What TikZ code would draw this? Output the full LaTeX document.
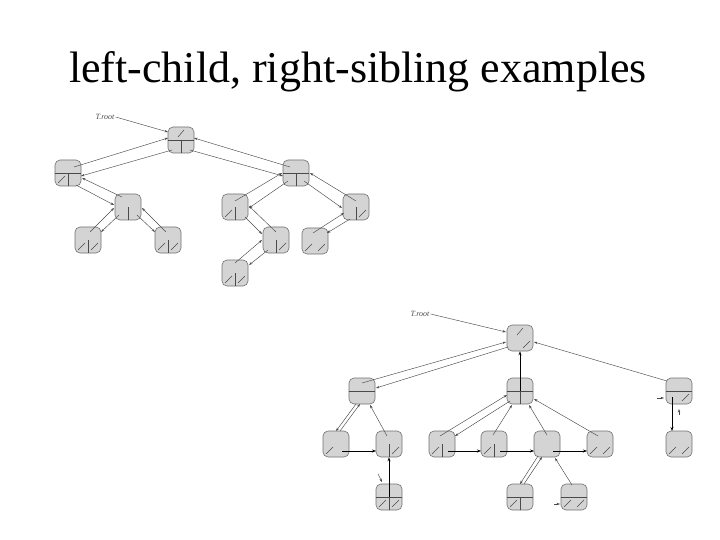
\documentclass[tikz,border=0pt]{standalone}
\usepackage{fontspec}
\setmainfont{Liberation Serif}
\usetikzlibrary{arrows.meta}
\definecolor{nodefill}{HTML}{D4D4D4}
\definecolor{nodeedge}{HTML}{707070}
\definecolor{ptrcol}{HTML}{4A4A4A}
\tikzset{
  rec/.style={draw=nodeedge, fill=nodefill, rounded corners=5pt, minimum size=26pt, inner sep=0pt, line width=0.6pt},
  divl/.style={draw=ptrcol, line width=0.5pt},
  ptr/.style={draw=ptrcol, line width=0.45pt, -{Stealth[length=3.5pt,width=2.4pt]}},
  sib/.style={draw=black, line width=0.9pt, -{Stealth[length=4pt,width=3pt]}},
  lab/.style={font=\fontsize{8}{9}\selectfont\itshape, text=ptrcol, inner sep=1pt}
}
\newcommand\hDiv[1]{\draw[divl] (#1.west) -- (#1.east);}
\newcommand\vDiv[1]{\draw[divl] (#1.center) -- (#1.south);}
\newcommand\nilT[1]{\draw[divl] ([shift={(-3,-3)}]#1.center) -- ([shift={(3,-10)}]#1.center);}
\newcommand\nilL[1]{\draw[divl] ([shift={(-10,10)}]#1.center) -- ([shift={(-3,3)}]#1.center);}
\newcommand\nilR[1]{\draw[divl] ([shift={(3,10)}]#1.center) -- ([shift={(10,3)}]#1.center);}
\begin{document}
\begin{tikzpicture}[x=1pt,y=-1pt]
\useasboundingbox (0,0) rectangle (720,540);
\node[font=\fontsize{44}{50}\selectfont, anchor=base, inner sep=0pt] (title) at (358,83) {left-child, right-sibling examples};

% ---------- top tree ----------
\node[rec] (root) at (181,140) {};
\node[rec] (A) at (68,173) {};
\node[rec] (B) at (296,173) {};
\node[rec] (C) at (128,207) {};
\node[rec] (D) at (88,240) {};
\node[rec] (E) at (168,240) {};
\node[rec] (F) at (235,207) {};
\node[rec] (G) at (356,207) {};
\node[rec] (H) at (276,240) {};
\node[rec] (J) at (315,241) {};
\node[rec] (I) at (235,273) {};
\node[lab] (lab1) at (105,117) {T.root};

\nilT{root}\hDiv{root}\vDiv{root}
\hDiv{A}\vDiv{A}\nilL{A}
\hDiv{B}\vDiv{B}
\vDiv{C}
\vDiv{D}\nilL{D}\nilR{D}
\vDiv{E}\nilL{E}\nilR{E}
\vDiv{F}\nilL{F}
\vDiv{G}\nilR{G}
\vDiv{H}\nilR{H}
\nilL{J}\nilR{J}
\vDiv{I}\nilL{I}\nilR{I}

\draw[ptr] (lab1.east) -- ([shift={(-13,-8)}]root.center);
% root - A
\draw[ptr] ([shift={(6,-6)}]A.center) -- ([shift={(-13,-2)}]root.center);
\draw[ptr] ([shift={(-9,10)}]root.center) -- ([shift={(13,3)}]A.center);
% root - B
\draw[ptr] ([shift={(-6,-6)}]B.center) -- ([shift={(13,-2)}]root.center);
\draw[ptr] ([shift={(9,10)}]root.center) -- ([shift={(-13,3)}]B.center);
% A - C
\draw[ptr] ([shift={(-6,-10)}]C.center) -- ([shift={(14,5)}]A.center);
\draw[ptr] ([shift={(8,12)}]A.center) -- ([shift={(-14,-2)}]C.center);
% C - D
\draw[ptr] ([shift={(2,-8)}]D.center) -- ([shift={(-14,1)}]C.center);
\draw[ptr] ([shift={(-9,8)}]C.center) -- ([shift={(13,-8)}]D.center);
% C - E
\draw[ptr] ([shift={(-2,-8)}]E.center) -- ([shift={(14,1)}]C.center);
\draw[ptr] ([shift={(9,8)}]C.center) -- ([shift={(-13,-8)}]E.center);
% B - F
\draw[ptr] ([shift={(0,-6)}]F.center) -- ([shift={(-14,0)}]B.center);
\draw[ptr] ([shift={(-8,8)}]B.center) -- ([shift={(14,1)}]F.center);
% B - G
\draw[ptr] ([shift={(0,-6)}]G.center) -- ([shift={(14,0)}]B.center);
\draw[ptr] ([shift={(8,8)}]B.center) -- ([shift={(-14,1)}]G.center);
% F - H
\draw[ptr] ([shift={(0,-8)}]H.center) -- ([shift={(14,-1)}]F.center);
\draw[ptr] ([shift={(10,10)}]F.center) -- ([shift={(-14,-6)}]H.center);
% G - J
\draw[ptr] ([shift={(-2,-8)}]J.center) -- ([shift={(-12,6)}]G.center);
\draw[ptr] ([shift={(-6,12)}]G.center) -- ([shift={(12,-8)}]J.center);
% H - I
\draw[ptr] ([shift={(0,-10)}]I.center) -- ([shift={(-14,0)}]H.center);
\draw[ptr] ([shift={(-8,10)}]H.center) -- ([shift={(14,-8)}]I.center);

% ---------- bottom tree ----------
\node[rec] (bR) at (520,338) {};
\node[rec] (bK) at (362,391) {};
\node[rec] (bL) at (520,391) {};
\node[rec] (bM) at (679,391) {};
\node[rec] (bN) at (336,444) {};
\node[rec] (bO) at (389,444) {};
\node[rec] (bP) at (389,497) {};
\node[rec] (bQ) at (442,444) {};
\node[rec] (bS) at (494,444) {};
\node[rec] (bT) at (547,444) {};
\node[rec] (bU) at (600,444) {};
\node[rec] (bV) at (520,497) {};
\node[rec] (bW) at (574,497) {};
\node[rec] (bX) at (679,444) {};
\node[lab] (lab2) at (420,314) {T.root};

\nilT{bR}\nilR{bR}
\hDiv{bK}
\hDiv{bL}\vDiv{bL}
\hDiv{bM}\nilR{bM}
\nilL{bN}
\vDiv{bO}\nilR{bO}
\hDiv{bP}\vDiv{bP}\nilL{bP}\nilR{bP}
\vDiv{bQ}\nilL{bQ}
\vDiv{bS}\nilL{bS}
\nilL{bU}\nilR{bU}
\hDiv{bV}\vDiv{bV}\nilL{bV}
\hDiv{bW}\nilL{bW}\nilR{bW}
\nilL{bX}\nilR{bX}

\draw[ptr] (lab2.east) -- ([shift={(-14,-6)}]bR.center);
% R - K
\draw[ptr] ([shift={(0,-8)}]bK.center) -- ([shift={(-14,4)}]bR.center);
\draw[ptr] ([shift={(-12,9)}]bR.center) -- ([shift={(14,-3)}]bK.center);
% M -> R
\draw[ptr] ([shift={(-12,-10)}]bM.center) -- ([shift={(14,4)}]bR.center);
% L -> R thick
\draw[sib] (bL.center) -- (bR.south);
% K - N
\draw[ptr] ([shift={(-6,13)}]bK.center) -- ([shift={(0,-13)}]bN.center);
\draw[ptr] ([shift={(4,-13)}]bN.center) -- ([shift={(-2,13)}]bK.center);
% O -> K
\draw[ptr] ([shift={(-2,-8)}]bO.center) -- ([shift={(8,14)}]bK.center);
% N -> O
\draw[sib] ([shift={(6,7)}]bN.center) -- ([shift={(-13,7)}]bO.center);
% P -> O
\draw[sib] (bP.center) -- (bO.south);
\draw[ptr] ([shift={(-11,-23)}]bP.center) -- ([shift={(-7,-15)}]bP.center);
% L - Q
\draw[ptr] ([shift={(-10,10)}]bL.center) -- ([shift={(13,-8)}]bQ.center);
\draw[ptr] ([shift={(-2,-8)}]bQ.center) -- ([shift={(-13,4)}]bL.center);
% S, T, U -> L
\draw[ptr] ([shift={(-1,-9)}]bS.center) -- ([shift={(-8,14)}]bL.center);
\draw[ptr] ([shift={(0,-9)}]bT.center) -- ([shift={(9,14)}]bL.center);
\draw[ptr] ([shift={(-2,-8)}]bU.center) -- ([shift={(14,8)}]bL.center);
% siblings
\draw[sib] ([shift={(6,7)}]bQ.center) -- ([shift={(-13,7)}]bS.center);
\draw[sib] ([shift={(6,7)}]bS.center) -- ([shift={(-13,7)}]bT.center);
\draw[sib] ([shift={(6,7)}]bT.center) -- ([shift={(-13,7)}]bU.center);
% T - V
\draw[ptr] ([shift={(-9,12)}]bT.center) -- ([shift={(0,-13)}]bV.center);
\draw[ptr] ([shift={(4,-13)}]bV.center) -- ([shift={(-5,13)}]bT.center);
% W -> T
\draw[ptr] ([shift={(-2,-12)}]bW.center) -- ([shift={(8,14)}]bT.center);
\draw[ptr] ([shift={(-20,7)}]bW.center) -- ([shift={(-14,7)}]bW.center);
% M -> X
\draw[sib] ([shift={(-7,6)}]bM.center) -- ([shift={(-7,-13)}]bX.center);
\draw[ptr] ([shift={(0,24)}]bM.center) -- ([shift={(0,18)}]bM.center);
\draw[ptr] ([shift={(-22,7)}]bM.center) -- ([shift={(-15,7)}]bM.center);
\end{tikzpicture}
\end{document}
